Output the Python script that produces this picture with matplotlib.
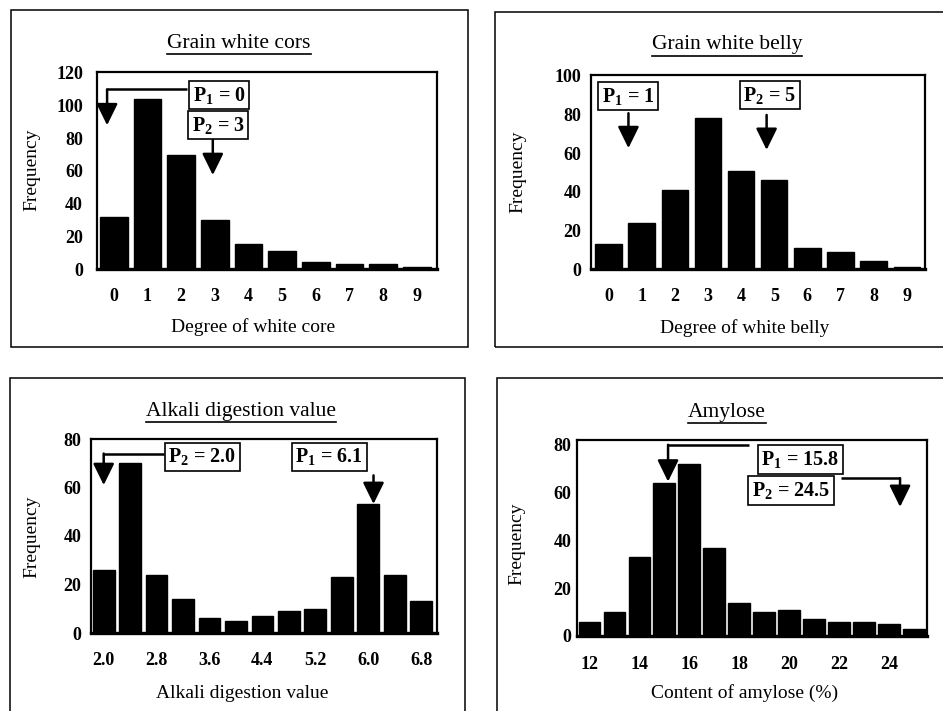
import matplotlib
matplotlib.use("Agg")
import matplotlib.pyplot as plt
from matplotlib.patches import Rectangle
from matplotlib.lines import Line2D

plt.rcParams['font.family'] = ['Liberation Serif', 'DejaVu Serif']
plt.rcParams['mathtext.fontset'] = 'custom'
plt.rcParams['mathtext.rm'] = 'Liberation Serif'
plt.rcParams['mathtext.it'] = 'Liberation Serif:italic'
plt.rcParams['mathtext.bf'] = 'Liberation Serif:bold'
plt.rcParams['mathtext.default'] = 'regular'

# ---------------- data ----------------
core_degree = [0, 1, 2, 3, 4, 5, 6, 7, 8, 9]
core_freq = [32, 104, 70, 30, 15, 11, 4, 3, 3, 1]

belly_degree = [0, 1, 2, 3, 4, 5, 6, 7, 8, 9]
belly_freq = [13, 24, 41, 78, 51, 46, 11, 9, 4, 1]

alkali_value = [2.0, 2.4, 2.8, 3.2, 3.6, 4.0, 4.4, 4.8, 5.2, 5.6, 6.0, 6.4, 6.8]
alkali_freq = [26, 70, 24, 14, 6, 5, 7, 9, 10, 23, 53, 24, 13]
alkali_ticks = [2.0, 2.8, 3.6, 4.4, 5.2, 6.0, 6.8]

amylose_content = [12, 13, 14, 15, 16, 17, 18, 19, 20, 21, 22, 23, 24, 25]
amylose_freq = [6, 10, 33, 64, 72, 37, 14, 10, 11, 7, 6, 6, 5, 3]
amylose_ticks = [12, 14, 16, 18, 20, 22, 24]

W, H = 943, 711
fig = plt.figure(figsize=(W / 100, H / 100), dpi=100)


def fx(px):
    return px / W


def fy(py):
    return 1 - py / H


def rect(l, r, t, b):
    return [l / W, 1 - b / H, (r - l) / W, (b - t) / H]


panels = [
    dict(x=core_degree, y=core_freq, xticks=core_degree, xfmt='{:d}',
         rect=(97, 437, 72, 269), xlim=(-0.5, 9.6), ylim=(0, 120.6),
         yticks=[0, 20, 40, 60, 80, 100, 120], width=0.83,
         xpad=14, ypad=10,
         title='Grain white cors', title_xy=(239, 43),
         xlabel='Degree of white core', xlabel_xy=(253, 327),
         ylabel_xy=(32, 170),
         frame=(11, 10, 468, 347),
         boxes=[('P$_1$ = 0', 3.13, 106.5), ('P$_2$ = 3', 3.1, 88)],
         hlines=[(2.17, -0.2, 110)],
         arrows=[((-0.2, 110), (-0.2, 88)), ((2.94, 79), (2.94, 57.5))]),
    dict(x=belly_degree, y=belly_freq, xticks=belly_degree, xfmt='{:d}',
         rect=(591, 925, 75, 269), xlim=(-0.53, 9.55), ylim=(0, 100.5),
         yticks=[0, 20, 40, 60, 80, 100], width=0.8,
         xpad=14, ypad=7,
         title='Grain white belly', title_xy=(727, 45),
         xlabel='Degree of white belly', xlabel_xy=(745, 328),
         ylabel_xy=(518, 172),
         frame=(495, 12, 948, 347),
         boxes=[('P$_1$ = 1', 0.58, 89.5), ('P$_2$ = 5', 4.87, 90)],
         hlines=[],
         arrows=[((0.6, 80.7), (0.6, 62.6)), ((4.77, 79.8), (4.77, 61.7))]),
    dict(x=alkali_value, y=alkali_freq, xticks=alkali_ticks, xfmt='{:.1f}',
         rect=(91, 437, 439, 633), xlim=(1.808, 7.04), ylim=(0, 80),
         yticks=[0, 20, 40, 60, 80], width=0.328,
         xpad=14, ypad=7,
         title='Alkali digestion value', title_xy=(241, 411),
         xlabel='Alkali digestion value', xlabel_xy=(242, 693),
         ylabel_xy=(32, 537),
         frame=(10, 378, 465, 715),
         boxes=[('P$_2$ = 2.0', 3.49, 72.6), ('P$_1$ = 6.1', 5.41, 72.6)],
         hlines=[(2.91, 2.0, 74)],
         arrows=[((2.0, 74), (2.0, 61)), ((6.08, 65), (6.08, 53.2))]),
    dict(x=amylose_content, y=amylose_freq, xticks=amylose_ticks, xfmt='{:d}',
         rect=(577, 927, 440, 636), xlim=(11.5, 25.53), ylim=(0, 82),
         yticks=[0, 20, 40, 60, 80], width=0.87,
         xpad=14.5, ypad=4,
         title='Amylose', title_xy=(727, 412),
         xlabel='Content of amylose (%)', xlabel_xy=(745, 693),
         ylabel_xy=(517, 544),
         frame=(497, 378, 948, 715),
         boxes=[('P$_1$ = 15.8', 20.46, 73.85), ('P$_2$ = 24.5', 20.08, 60.9)],
         hlines=[(18.4, 15.15, 80), (22.1, 24.45, 66)],
         arrows=[((15.15, 80), (15.15, 64.6)), ((24.45, 66), (24.45, 54))]),
]

titles = []
for p in panels:
    ax = fig.add_axes(rect(*p['rect']))
    ax.bar(p['x'], p['y'], width=p['width'], color='black', edgecolor='black', zorder=2)
    ax.set_xlim(*p['xlim'])
    ax.set_ylim(*p['ylim'])
    ax.set_xticks(p['xticks'], [p['xfmt'].format(v) for v in p['xticks']],
                  fontweight='bold', fontsize=13)
    ax.set_yticks(p['yticks'], [str(v) for v in p['yticks']],
                  fontweight='bold', fontsize=13)
    ax.tick_params(axis='x', length=0, pad=p['xpad'])
    ax.tick_params(axis='y', length=0, pad=p['ypad'])
    for s in ['top', 'left', 'right']:
        ax.spines[s].set_linewidth(1.6)
    ax.spines['bottom'].set_linewidth(2.4)
    for txt, bx, by in p['boxes']:
        ax.text(bx, by, txt, ha='center', va='center', fontsize=14.5, fontweight='bold',
                bbox=dict(boxstyle='square,pad=0.18', facecolor='white',
                          edgecolor='black', linewidth=1.2), zorder=5)
    for x0, x1, yy in p['hlines']:
        ax.plot([x0, x1], [yy, yy], color='black', lw=1.8, clip_on=False, zorder=4,
                solid_capstyle='butt')
    for (sx, sy), (tx, ty) in p['arrows']:
        ax.annotate('', xy=(tx, ty), xytext=(sx, sy),
                    arrowprops=dict(arrowstyle='-|>,head_length=0.55,head_width=0.27',
                                    mutation_scale=24, lw=1.8, color='black',
                                    shrinkA=0, shrinkB=0), zorder=4)
    t = fig.text(fx(p['title_xy'][0]), fy(p['title_xy'][1]), p['title'],
                 ha='center', va='center', fontsize=15.5)
    titles.append(t)
    fig.text(fx(p['xlabel_xy'][0]), fy(p['xlabel_xy'][1]), p['xlabel'],
             ha='center', va='center', fontsize=14)
    fig.text(fx(p['ylabel_xy'][0]), fy(p['ylabel_xy'][1]), 'Frequency',
             ha='center', va='center', fontsize=14, rotation=90)
    l, t0, r, b = p['frame']
    fig.add_artist(Rectangle((fx(l), fy(b)), (r - l) / W, (b - t0) / H,
                             transform=fig.transFigure, fill=False,
                             edgecolor='black', linewidth=1.1))

fig.canvas.draw()
renderer = fig.canvas.get_renderer()
for t in titles:
    bb = t.get_window_extent(renderer)
    yb = bb.y0 - 1
    fig.add_artist(Line2D([bb.x0 / W, bb.x1 / W], [yb / H, yb / H],
                          transform=fig.transFigure, color='black', lw=1.2))

fig.savefig('out.png', dpi=100)
